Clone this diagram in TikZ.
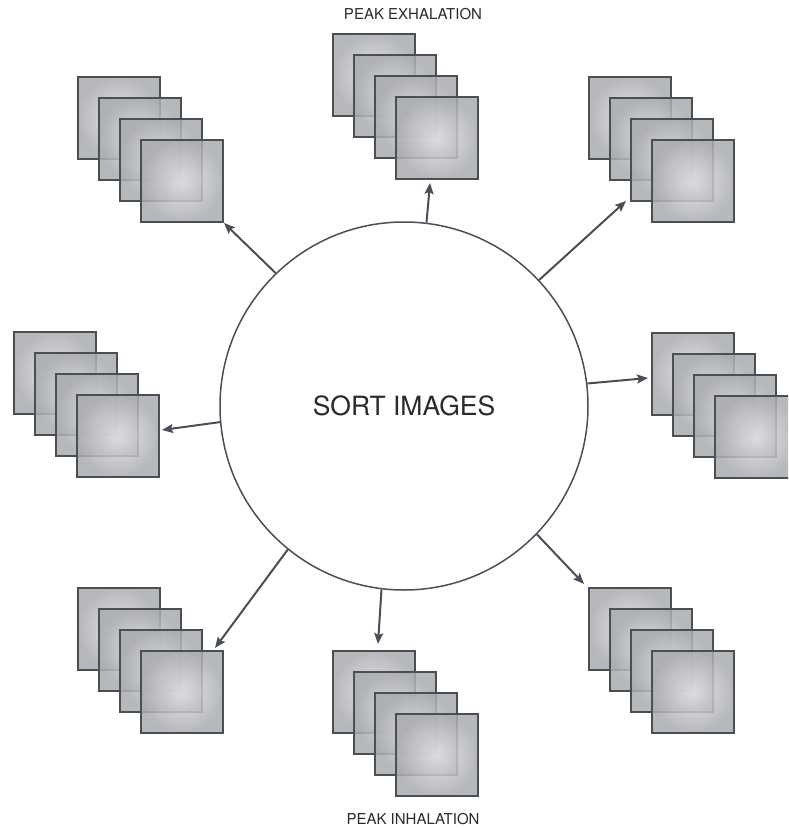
\documentclass[tikz,border=0pt]{standalone}
\usepackage{fontspec}
\setmainfont{TeX Gyre Heros}
\usetikzlibrary{arrows.meta}
\definecolor{edgec}{HTML}{4A4F57}
\definecolor{sqin}{HTML}{E0E0E2}
\definecolor{sqout}{HTML}{ABACAF}
\definecolor{txtc}{HTML}{2A2A2A}
\tikzset{
  imgsq/.style={draw=edgec, line width=2pt, anchor=north west, minimum size=82pt,
    inner sep=0pt, shading=radial, inner color=sqin, outer color=sqout,
    fill opacity=0.86, draw opacity=1},
  hub/.style={circle, draw=edgec, line width=1.5pt, minimum size=368pt, inner sep=0pt,
    font=\fontsize{26.5pt}{30pt}\selectfont, text=txtc},
  arr/.style={draw=edgec, line width=2pt, -{Stealth[length=11pt,width=9pt,inset=2pt]}},
  lbl/.style={font=\fontsize{15pt}{17pt}\selectfont, text=txtc}
}
\newcommand\imgstack[3]{%
  \foreach \k in {1,...,4}{%
    \node[imgsq] (#1\k) at ({#2+21*(\k-1)}, {#3+21*(\k-1)}) {};
  }}
\begin{document}
\begin{tikzpicture}[x=1pt, y=-1pt]
  \useasboundingbox (0,0) rectangle (788,828);
  \clip (0,0) rectangle (788,828);
  \node[hub] (c) at (404,406) {SORT IMAGES};
  \imgstack{nw}{77}{76}
  \imgstack{n}{332}{33}
  \imgstack{ne}{588}{76}
  \imgstack{w}{13}{331}
  \imgstack{e}{651}{332}
  \imgstack{sw}{77}{587}
  \imgstack{s}{332}{650}
  \imgstack{se}{588}{587}
  \node[lbl] (lex) at (413,14) {PEAK EXHALATION};
  \node[lbl] (lin) at (413,819) {PEAK INHALATION};
  \coordinate (tn) at (430,183);
  \coordinate (tne) at (626,201);
  \coordinate (te) at (648,378);
  \coordinate (tse) at (584,584);
  \coordinate (ts) at (378,644);
  \coordinate (tsw) at (215,648);
  \coordinate (tw) at (162,430);
  \coordinate (tnw) at (224,223);
  \draw[arr] (c.83) -- (tn);
  \draw[arr] (c.43) -- (tne);
  \draw[arr] (c.7.5) -- (te);
  \draw[arr] (c.-44) -- (tse);
  \draw[arr] (c.263.8) -- (ts);
  \draw[arr] (c.231.7) -- (tsw);
  \draw[arr] (c.185.6) -- (tw);
  \draw[arr] (c.134) -- (tnw);
\end{tikzpicture}
\end{document}
